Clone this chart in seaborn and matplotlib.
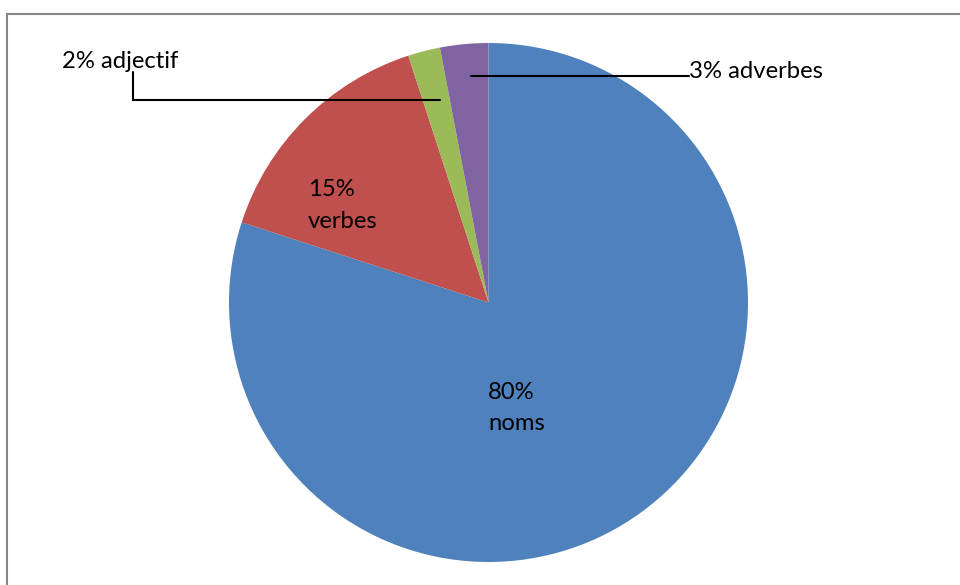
import matplotlib
matplotlib.use("Agg")
import matplotlib.pyplot as plt
import seaborn as sns
from matplotlib.patches import Rectangle

# data
categories = ["noms", "verbes", "adjectif", "adverbes"]
percents = [80, 15, 2, 3]
colors = ["#4F81BD", "#C0504D", "#9BBB59", "#8064A2"]

W, H = 960, 585

sns.set_theme(style="white")
plt.rcParams["font.family"] = ["Lato", "DejaVu Sans"]

fig = plt.figure(figsize=(W / 100, H / 100), dpi=100)
ax = fig.add_axes([0, 0, 1, 1])


def py(y):
    # pixel row -> data y
    return H - y


# -----------------------------------------
#  PIE
# -----------------------------------------
ax.pie(percents, colors=colors, startangle=90, counterclock=False,
       center=(488.5, py(302.5)), radius=259.5,
       wedgeprops=dict(linewidth=0), frame=True)
ax.set_xlim(0, W)
ax.set_ylim(0, H)
ax.set_aspect("equal")
ax.axis("off")

# -----------------------------------------
#  LABELS
# -----------------------------------------
fs = 17.2
labels = [f"{p}% {c}" for p, c in zip(percents, categories)]

# inside labels (two lines)
inside = {0: (488, 399), 1: (308, 196)}
for i, (x, y) in inside.items():
    p, c = percents[i], categories[i]
    ax.text(x, py(y), f"{p}%", ha="left", va="baseline", fontsize=fs, color="black")
    ax.text(x, py(y + 31.5), c, ha="left", va="baseline", fontsize=fs, color="black")

# outside labels with leader lines
ax.text(62, py(68), labels[2], ha="left", va="baseline", fontsize=fs, color="black")
ax.plot([133, 133, 440], [py(72), py(100), py(100)], color="black", lw=1.5,
        solid_joinstyle="miter")

ax.text(689, py(78), labels[3], ha="left", va="baseline", fontsize=fs, color="black")
ax.plot([471, 689], [py(76), py(76)], color="black", lw=1.5)

# chart area border (only top/left visible)
fig.patches.append(Rectangle((7 / W, -0.1), 1.2, (H - 13.5) / H + 0.1,
                             transform=fig.transFigure, fill=False,
                             edgecolor="#868686", lw=1.5))

fig.savefig("out.png", dpi=100, facecolor="white")
